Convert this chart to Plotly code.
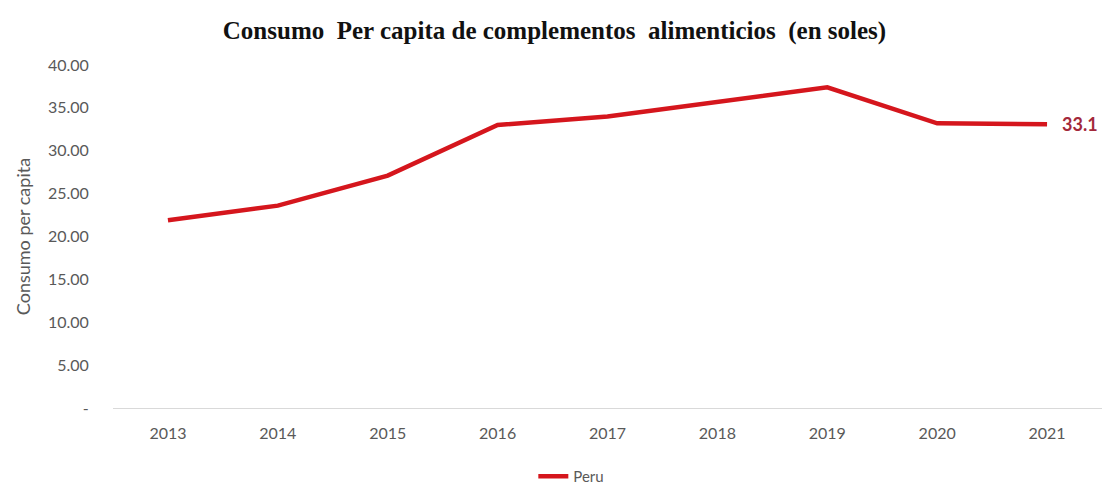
import plotly.graph_objects as go

years = ["2013", "2014", "2015", "2016", "2017", "2018", "2019", "2020", "2021"]
peru = [21.9, 23.6, 27.1, 33.0, 34.0, 35.7, 37.4, 33.2, 33.1]

y_ticks = [0, 5, 10, 15, 20, 25, 30, 35, 40]
y_tick_text = ["-", "5.00", "10.00", "15.00", "20.00", "25.00", "30.00", "35.00", "40.00"]

line_red = "#D5161D"
label_red = "#A3283A"
axis_gray = "#595959"
body_font = "Lato, Open Sans, sans-serif"

fig = go.Figure()
fig.add_trace(go.Scatter(
    x=years, y=peru, mode="lines", name="Peru",
    line=dict(color=line_red, width=4.5),
))

# value label at the last point (category index of the final year)
fig.add_annotation(
    x=len(years) - 1, y=peru[-1], text="<b>%.1f</b>" % peru[-1],
    showarrow=False, xanchor="left", xshift=13,
    font=dict(family=body_font, size=18, color=label_red),
)

fig.update_layout(
    width=1109, height=487,
    margin=dict(l=113, r=7, t=65, b=79, autoexpand=False),
    paper_bgcolor="white", plot_bgcolor="white",
    title=dict(
        text="<b>Consumo  Per capita de complementos  alimenticios  (en soles)</b>",
        x=0.5, xanchor="center", y=0.937, yanchor="middle",
        font=dict(family="Liberation Serif, Times New Roman, serif", size=25, color="#111111"),
    ),
    showlegend=True,
    legend=dict(
        orientation="h", x=0.425, xanchor="left", y=-0.2, yanchor="middle",
        font=dict(family=body_font, size=15, color=axis_gray),
        itemwidth=30, tracegroupgap=0,
    ),
    xaxis=dict(
        type="category", range=[-0.5, len(years) - 0.5],
        showgrid=False, zeroline=False,
        showline=True, linecolor="#D9D9D9", linewidth=1.2,
        ticks="outside", ticklen=11, tickcolor="rgba(0,0,0,0)",
        tickfont=dict(family=body_font, size=16, color=axis_gray),
    ),
    yaxis=dict(
        range=[0, 40], tickvals=y_ticks, ticktext=y_tick_text,
        showgrid=False, zeroline=False, showline=False,
        ticks="outside", ticklen=20, tickcolor="rgba(0,0,0,0)",
        tickfont=dict(family=body_font, size=16, color=axis_gray),
        title=dict(text="Consumo per capita", standoff=12,
                   font=dict(family=body_font, size=18, color=axis_gray)),
    ),
)

fig.write_html("out.html")
